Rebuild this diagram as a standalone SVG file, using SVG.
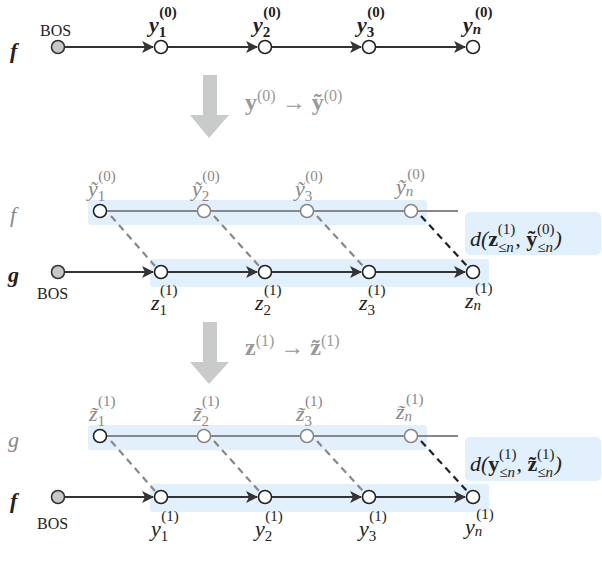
<svg xmlns="http://www.w3.org/2000/svg" width="602" height="580" viewBox="0 0 602 580" font-family="'Liberation Serif','DejaVu Serif',serif">
<style>
text{font-family:'Liberation Serif','DejaVu Serif',serif}
.m{font-style:italic;font-size:22px}
.s{font-size:15px;font-style:normal}
.si{font-size:15px;font-style:italic}
.dk{fill:#222}
.gr{fill:#888}
.ln{stroke:#333;stroke-width:2.2;fill:none}
.gl{stroke:#888;stroke-width:2;fill:none}
.nd{fill:#fff;stroke:#222;stroke-width:1.6}
.gn{fill:#fff;stroke:#888;stroke-width:1.6}
.bos{fill:#c8c8c8;stroke:#333;stroke-width:1.6}
.box{fill:#e2effc}
.dg{stroke:#888;stroke-width:2.2;stroke-dasharray:7,5}
.db{stroke:#222;stroke-width:2.2;stroke-dasharray:7,5}
.big{fill:#c9cbcb}
</style>
<defs>
<marker id="ah" markerWidth="12" markerHeight="12" refX="11" refY="6" orient="auto" markerUnits="userSpaceOnUse" viewBox="0 0 12 12">
<path d="M0,0 L12,6 L0,12 L3,6 Z" fill="#333"/>
</marker>
</defs>

<rect class="box" x="88" y="200" width="339" height="25" rx="3"/>
<rect class="box" x="150" y="259" width="339" height="28" rx="3"/>
<rect class="box" x="465" y="212" width="136" height="43" rx="5"/>
<rect class="box" x="88" y="425" width="339" height="25" rx="3"/>
<rect class="box" x="150" y="484" width="339" height="28" rx="3"/>
<rect class="box" x="465" y="437" width="136" height="44" rx="5"/>

<g id="connectors">
<line class="ln" x1="65" y1="47" x2="153" y2="47" marker-end="url(#ah)"/>
<line class="ln" x1="168" y1="47" x2="257" y2="47" marker-end="url(#ah)"/>
<line class="ln" x1="272" y1="47" x2="361" y2="47" marker-end="url(#ah)"/>
<line class="ln" x1="375" y1="47" x2="465" y2="47" marker-end="url(#ah)"/>
<line class="gl" x1="107" y1="211" x2="458" y2="211"/>
<line class="dg" x1="111" y1="216" x2="155" y2="266"/>
<line class="dg" x1="214" y1="216" x2="259" y2="266"/>
<line class="dg" x1="317" y1="216" x2="363" y2="266"/>
<line class="db" x1="421" y1="216" x2="467" y2="266"/>
<line class="ln" x1="65" y1="272" x2="153" y2="272" marker-end="url(#ah)"/>
<line class="ln" x1="168" y1="272" x2="257" y2="272" marker-end="url(#ah)"/>
<line class="ln" x1="272" y1="272" x2="361" y2="272" marker-end="url(#ah)"/>
<line class="ln" x1="375" y1="272" x2="465" y2="272" marker-end="url(#ah)"/>
<line class="gl" x1="107" y1="436" x2="458" y2="436"/>
<line class="dg" x1="111" y1="441" x2="155" y2="491"/>
<line class="dg" x1="214" y1="441" x2="259" y2="491"/>
<line class="dg" x1="317" y1="441" x2="363" y2="491"/>
<line class="db" x1="421" y1="441" x2="467" y2="491"/>
<line class="ln" x1="65" y1="497" x2="153" y2="497" marker-end="url(#ah)"/>
<line class="ln" x1="168" y1="497" x2="257" y2="497" marker-end="url(#ah)"/>
<line class="ln" x1="272" y1="497" x2="361" y2="497" marker-end="url(#ah)"/>
<line class="ln" x1="375" y1="497" x2="465" y2="497" marker-end="url(#ah)"/>
</g>

<g id="arrow1"><path class="big" d="M203,75 H217 V115 H229 L209,138 L190,115 H203 Z"/>
<text x="245" y="110" font-size="24" fill="#999"><tspan font-weight="bold">y</tspan><tspan dy="-9" font-size="16">(0)</tspan><tspan dy="9"> → </tspan><tspan font-weight="bold">ỹ</tspan><tspan dy="-9" font-size="16">(0)</tspan></text></g>
<g id="arrow2"><path class="big" d="M203,322 H217 V362 H229 L209,384 L190,362 H203 Z"/>
<text x="245" y="355" font-size="24" fill="#999"><tspan font-weight="bold">z</tspan><tspan dy="-9" font-size="16">(1)</tspan><tspan dy="9"> → </tspan><tspan font-weight="bold">z̃</tspan><tspan dy="-9" font-size="16">(1)</tspan></text></g>

<g id="row1">
<text x="10" y="58" class="m dk" font-size="26" font-weight="bold">f</text>
<text x="40" y="36" font-size="16" class="dk">BOS</text>
<circle class="bos" cx="58" cy="47" r="6.5"/>
<circle class="nd" cx="161" cy="47" r="6.5"/>
<circle class="nd" cx="265" cy="47" r="6.5"/>
<circle class="nd" cx="369" cy="47" r="6.5"/>
<circle class="nd" cx="473" cy="47" r="6.5"/>
<text class="m dk" x="149" y="32" font-weight="bold">y<tspan class="s" dy="5">1</tspan><tspan class="s" dx="-7" dy="-20">(0)</tspan></text>
<text class="m dk" x="253" y="32" font-weight="bold">y<tspan class="s" dy="5">2</tspan><tspan class="s" dx="-7" dy="-20">(0)</tspan></text>
<text class="m dk" x="357" y="32" font-weight="bold">y<tspan class="s" dy="5">3</tspan><tspan class="s" dx="-7" dy="-20">(0)</tspan></text>
<text class="m dk" x="463" y="32" font-weight="bold">y<tspan class="si" dy="2">n</tspan><tspan class="s" dx="-6" dy="-17">(0)</tspan></text>
</g>

<g id="row2f">
<text x="10" y="222" class="m gr" font-size="26">f</text>
<circle class="nd" cx="100" cy="211" r="6.5"/>
<circle class="gn" cx="204" cy="211" r="6.5"/>
<circle class="gn" cx="307" cy="211" r="6.5"/>
<circle class="gn" cx="411" cy="211" r="6.5"/>
<text class="m gr" x="88" y="196">ỹ<tspan class="s" dy="5">1</tspan><tspan class="s" dx="-7" dy="-20">(0)</tspan></text>
<text class="m gr" x="192" y="196">ỹ<tspan class="s" dy="5">2</tspan><tspan class="s" dx="-7" dy="-20">(0)</tspan></text>
<text class="m gr" x="295" y="196">ỹ<tspan class="s" dy="5">3</tspan><tspan class="s" dx="-7" dy="-20">(0)</tspan></text>
<text class="m gr" x="396" y="194">ỹ<tspan class="si" dy="2">n</tspan><tspan class="s" dx="-6" dy="-17">(0)</tspan></text>
</g>
<g id="d1"><text class="m dk" x="470" y="246">d(<tspan font-weight="bold" font-style="normal">z</tspan><tspan class="si" dy="6">≤n</tspan><tspan class="s" dx="-16" dy="-18">(1)</tspan><tspan dy="12">, </tspan><tspan font-weight="bold" font-style="normal">ỹ</tspan><tspan class="si" dy="6">≤n</tspan><tspan class="s" dx="-16" dy="-18">(0)</tspan><tspan dy="12">)</tspan></text></g>

<g id="row2g">
<text x="8" y="282" class="m dk" font-size="26" font-weight="bold">g</text>
<text x="37" y="299" font-size="16" class="dk">BOS</text>
<circle class="bos" cx="58" cy="272" r="6.5"/>
<circle class="nd" cx="161" cy="272" r="6.5"/>
<circle class="nd" cx="265" cy="272" r="6.5"/>
<circle class="nd" cx="369" cy="272" r="6.5"/>
<circle class="nd" cx="473" cy="272" r="6.5"/>
<text class="m dk" x="151" y="310">z<tspan class="s" dy="5">1</tspan><tspan class="s" dx="-7" dy="-20">(1)</tspan></text>
<text class="m dk" x="255" y="310">z<tspan class="s" dy="5">2</tspan><tspan class="s" dx="-7" dy="-20">(1)</tspan></text>
<text class="m dk" x="359" y="310">z<tspan class="s" dy="5">3</tspan><tspan class="s" dx="-7" dy="-20">(1)</tspan></text>
<text class="m dk" x="465" y="308">z<tspan class="si" dy="2">n</tspan><tspan class="s" dx="-6" dy="-17">(1)</tspan></text>
</g>

<g id="row3g">
<text x="8" y="447" class="m gr" font-size="26">g</text>
<circle class="nd" cx="100" cy="436" r="6.5"/>
<circle class="gn" cx="204" cy="436" r="6.5"/>
<circle class="gn" cx="307" cy="436" r="6.5"/>
<circle class="gn" cx="411" cy="436" r="6.5"/>
<text class="m gr" x="89" y="421">z̃<tspan class="s" dy="5">1</tspan><tspan class="s" dx="-7" dy="-20">(1)</tspan></text>
<text class="m gr" x="193" y="421">z̃<tspan class="s" dy="5">2</tspan><tspan class="s" dx="-7" dy="-20">(1)</tspan></text>
<text class="m gr" x="296" y="421">z̃<tspan class="s" dy="5">3</tspan><tspan class="s" dx="-7" dy="-20">(1)</tspan></text>
<text class="m gr" x="396" y="419">z̃<tspan class="si" dy="2">n</tspan><tspan class="s" dx="-6" dy="-17">(1)</tspan></text>
</g>
<g id="d2"><text class="m dk" x="470" y="471">d(<tspan font-weight="bold" font-style="normal">y</tspan><tspan class="si" dy="6">≤n</tspan><tspan class="s" dx="-16" dy="-18">(1)</tspan><tspan dy="12">, </tspan><tspan font-weight="bold" font-style="normal">z̃</tspan><tspan class="si" dy="6">≤n</tspan><tspan class="s" dx="-16" dy="-18">(1)</tspan><tspan dy="12">)</tspan></text></g>

<g id="row3f">
<text x="10" y="508" class="m dk" font-size="26" font-weight="bold">f</text>
<text x="37" y="529" font-size="16" class="dk">BOS</text>
<circle class="bos" cx="58" cy="497" r="6.5"/>
<circle class="nd" cx="161" cy="497" r="6.5"/>
<circle class="nd" cx="265" cy="497" r="6.5"/>
<circle class="nd" cx="369" cy="497" r="6.5"/>
<circle class="nd" cx="473" cy="497" r="6.5"/>
<text class="m dk" x="151" y="536">y<tspan class="s" dy="5">1</tspan><tspan class="s" dx="-7" dy="-20">(1)</tspan></text>
<text class="m dk" x="255" y="536">y<tspan class="s" dy="5">2</tspan><tspan class="s" dx="-7" dy="-20">(1)</tspan></text>
<text class="m dk" x="359" y="536">y<tspan class="s" dy="5">3</tspan><tspan class="s" dx="-7" dy="-20">(1)</tspan></text>
<text class="m dk" x="465" y="534">y<tspan class="si" dy="2">n</tspan><tspan class="s" dx="-6" dy="-17">(1)</tspan></text>
</g>
</svg>
